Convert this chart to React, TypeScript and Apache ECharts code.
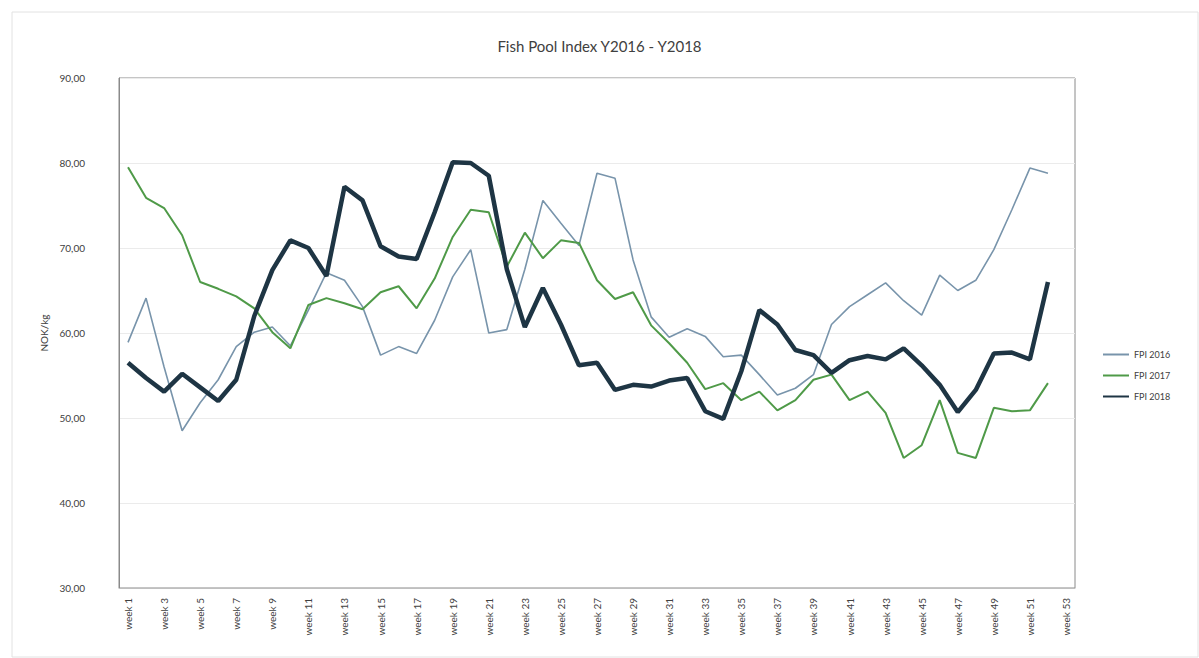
import React, { useEffect, useRef } from "react";
import * as echarts from "echarts";

const weeks: string[] = Array.from({ length: 53 }, (_, i) => `week ${i + 1}`);

const fpi2016: number[] = [
  58.9, 64.1, 56.0, 48.5, 51.8, 54.5, 58.4, 60.1, 60.7, 58.5,
  62.7, 67.1, 66.2, 63.1, 57.4, 58.4, 57.6, 61.5, 66.6, 69.8,
  60.0, 60.4, 67.5, 75.6, 72.9, 70.3, 78.8, 78.2, 68.6, 61.9,
  59.5, 60.5, 59.6, 57.2, 57.4, 55.1, 52.7, 53.5, 55.1, 61.0,
  63.1, 64.5, 65.9, 63.8, 62.1, 66.8, 65.0, 66.2, 69.8, 74.5,
  79.4, 78.8,
];

const fpi2017: number[] = [
  79.5, 75.9, 74.7, 71.5, 66.0, 65.2, 64.3, 62.9, 60.1, 58.2,
  63.3, 64.1, 63.5, 62.8, 64.8, 65.5, 62.9, 66.4, 71.3, 74.5,
  74.2, 67.8, 71.8, 68.8, 70.9, 70.6, 66.2, 64.0, 64.8, 60.9,
  58.8, 56.5, 53.4, 54.1, 52.1, 53.1, 50.9, 52.1, 54.5, 55.1,
  52.1, 53.1, 50.6, 45.3, 46.8, 52.1, 45.9, 45.3, 51.2, 50.8,
  50.9, 54.1,
];

const fpi2018: number[] = [
  56.5, 54.7, 53.1, 55.2, 53.6, 52.0, 54.5, 62.0, 67.4, 70.9,
  70.0, 66.7, 77.2, 75.6, 70.2, 69.0, 68.7, 74.2, 80.1, 80.0,
  78.5, 67.5, 60.7, 65.3, 61.0, 56.2, 56.5, 53.3, 53.9, 53.7,
  54.4, 54.7, 50.8, 49.9, 55.5, 62.7, 61.0, 58.0, 57.4, 55.3,
  56.8, 57.3, 56.9, 58.2, 56.2, 53.9, 50.7, 53.3, 57.6, 57.7,
  56.9, 66.0,
];

const seriesNames: string[] = ["FPI 2016", "FPI 2017", "FPI 2018"];
const titleText = "Fish Pool Index Y2016 - Y2018";
const yAxisName = "NOK/kg";

export default function App() {
  const ref = useRef<HTMLDivElement>(null);

  useEffect(() => {
    if (!ref.current) return;
    const chart = echarts.init(ref.current, undefined, { renderer: "svg" });
    const font = "Lato, 'Open Sans', sans-serif";
    chart.setOption({
      animation: false,
      backgroundColor: "#ffffff",
      textStyle: { fontFamily: font },
      title: {
        text: titleText,
        left: "center",
        top: 33,
        textStyle: { fontSize: 15, fontWeight: "normal", color: "#404040", fontFamily: font },
      },
      graphic: [
        {
          type: "rect",
          shape: { x: 12, y: 12, width: 1186, height: 645 },
          style: { fill: "none", stroke: "#e2e2e2", lineWidth: 1 },
          silent: true,
        },
      ],
      legend: {
        orient: "vertical",
        left: 1097,
        top: 345,
        itemWidth: 26,
        itemHeight: 10,
        itemGap: 12,
        data: seriesNames,
        itemStyle: { opacity: 0 },
        textStyle: { fontSize: 9, color: "#404040", fontFamily: font },
      },
      grid: {
        left: 119,
        right: 124,
        top: 78,
        bottom: 70,
        show: true,
        borderColor: "#8a8a8a",
        borderWidth: 1,
      },
      xAxis: {
        type: "category",
        data: weeks,
        boundaryGap: true,
        axisLine: { show: true, lineStyle: { color: "#bfbfbf" } },
        axisTick: { show: false },
        axisLabel: {
          interval: 1,
          rotate: 90,
          fontSize: 10,
          color: "#404040",
          margin: 10,
          fontFamily: font,
        },
        splitLine: { show: false },
      },
      yAxis: {
        type: "value",
        min: 30,
        max: 90,
        interval: 10,
        name: yAxisName,
        nameLocation: "middle",
        nameGap: 68,
        nameTextStyle: { fontSize: 10, color: "#404040", fontFamily: font },
        axisLine: { show: true, lineStyle: { color: "#8a8a8a" } },
        axisTick: { show: false },
        axisLabel: {
          fontSize: 10,
          color: "#404040",
          margin: 34,
          fontFamily: font,
          formatter: (v: number) => v.toFixed(2).replace(".", ","),
        },
        splitLine: { show: true, lineStyle: { color: "#ebebeb" } },
      },
      series: [
        {
          name: seriesNames[0],
          type: "line",
          data: fpi2016,
          symbol: "none",
          lineStyle: { width: 1.6, color: "#7894ab" },
          itemStyle: { color: "#7894ab" },
          z: 2,
        },
        {
          name: seriesNames[1],
          type: "line",
          data: fpi2017,
          symbol: "none",
          lineStyle: { width: 2, color: "#4f9a48" },
          itemStyle: { color: "#4f9a48" },
          z: 3,
        },
        {
          name: seriesNames[2],
          type: "line",
          data: fpi2018,
          symbol: "none",
          lineStyle: { width: 4.5, color: "#1e3544" },
          itemStyle: { color: "#1e3544" },
          z: 4,
        },
      ],
    });
    return () => chart.dispose();
  }, []);

  return (
    <div
      ref={ref}
      style={{ position: "fixed", left: 0, top: 0, width: 1199, height: 658 }}
    />
  );
}
